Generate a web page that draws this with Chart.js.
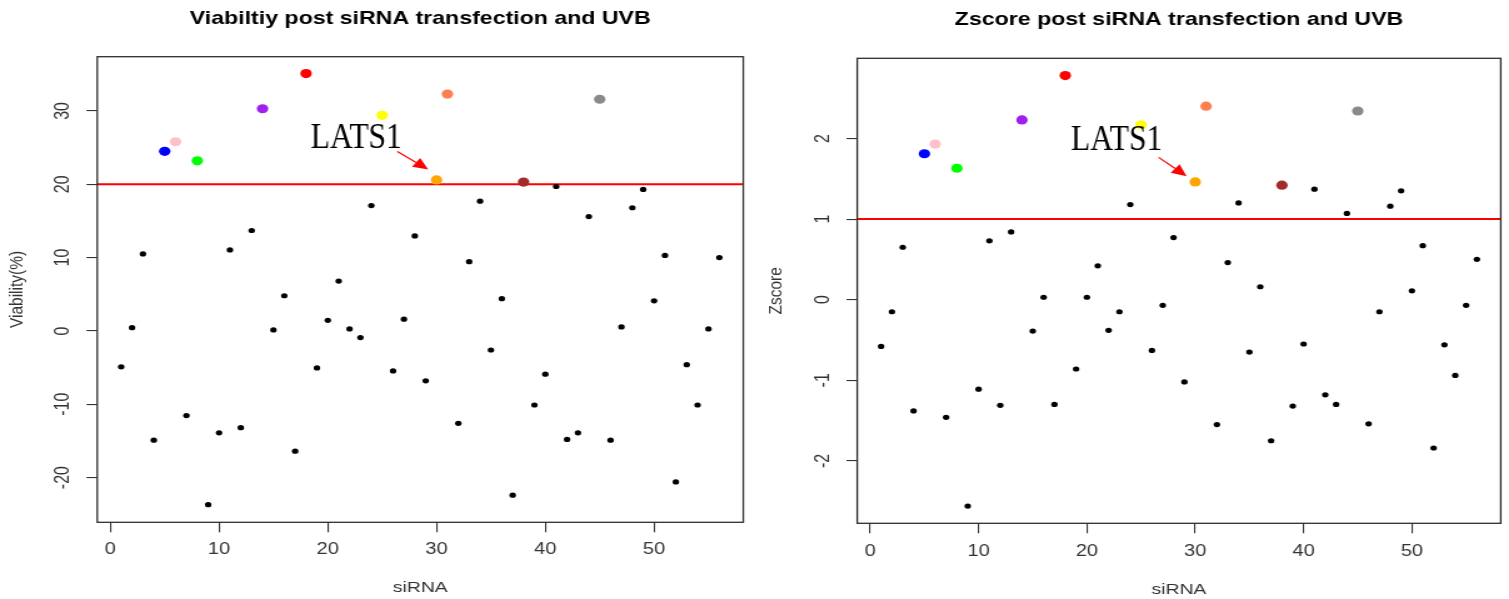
<!DOCTYPE html>
<html>
<head>
<meta charset="utf-8">
<script src="https://cdn.jsdelivr.net/npm/chart.js@4.4.0/dist/chart.umd.min.js"></script>
<style>
  html, body { margin: 0; padding: 0; background: #fff; overflow: hidden; }
  #wrap { position: relative; width: 1509px; height: 599px; }
  /* the original figure is stretched sideways, so the canvases are too */
  canvas { position: absolute; top: 0; transform-origin: 0 0; transform: scaleX(1.25); }
  #left { left: 0; }
  #right { left: 754px; }
</style>
</head>
<body>
<div id="wrap">
  <canvas id="left" width="603" height="599"></canvas>
  <canvas id="right" width="604" height="599"></canvas>
</div>
<script>
// siRNA number (x axis)
const siRNA = [1, 2, 3, 4, 5, 6, 7, 8, 9, 10, 11, 12, 13, 14, 15, 16, 17, 18, 19, 20,
  21, 22, 23, 24, 25, 26, 27, 28, 29, 30, 31, 32, 33, 34, 35, 36, 37, 38, 39, 40,
  41, 42, 43, 44, 45, 46, 47, 48, 49, 50, 51, 52, 53, 54, 55, 56];

// viability (%) after transfection + UVB
const viability = [-4.9, 0.45, 10.5, -14.9, 24.5, 25.8, -11.55, 23.2, -23.7, -13.9,
  11.05, -13.2, 13.7, 30.3, 0.14, 4.8, -16.4, 35.1, -5.05, 1.45,
  6.8, 0.27, -0.9, 17.1, 29.4, -5.45, 1.6, 12.96, -6.8, 20.6,
  32.3, -12.6, 9.45, 17.7, -2.6, 4.4, -22.4, 20.3, -10.1, -5.9,
  19.7, -14.8, -13.9, 15.6, 31.6, -14.9, 0.55, 16.8, 19.3, 4.1,
  10.3, -20.6, -4.6, -10.1, 0.27, 10.0];

// z-scores of the same screen
const zscore = [-0.58, -0.15, 0.65, -1.38, 1.81, 1.93, -1.46, 1.63, -2.56, -1.11,
  0.73, -1.31, 0.84, 2.23, -0.39, 0.03, -1.30, 2.78, -0.86, 0.03,
  0.42, -0.38, -0.15, 1.18, 2.17, -0.63, -0.07, 0.77, -1.02, 1.46,
  2.40, -1.55, 0.46, 1.20, -0.65, 0.16, -1.75, 1.42, -1.32, -0.55,
  1.37, -1.18, -1.30, 1.07, 2.34, -1.54, -0.15, 1.16, 1.35, 0.11,
  0.67, -1.84, -0.56, -0.94, -0.07, 0.50];

// hits that get their own colour
const hitIds = [5, 6, 8, 14, 18, 25, 30, 31, 38, 45];
const hitColors = ['#0000ff', '#ffc0cb', '#00ff00', '#a020f0', '#ff0000',
  '#ffff00', '#ffa500', '#ff7f50', '#a52a2a', '#8a8a8a'];

// axis limits (R style, 4% extension) and ticks
const xLimits = [-1.2, 58.2];
const viabLimits = [-26.1, 37.4];
const zLimits = [-2.774, 2.994];
const viabCut = 20;
const zCut = 1;
const calloutLabel = 'LATS1';

Chart.defaults.font.family = '"Liberation Sans", Arial, sans-serif';

// R draws a full box round the plot region
const framePlugin = {
  id: 'frame',
  afterDatasetsDraw(chart) {
    const { ctx, chartArea: a } = chart;
    ctx.save();
    ctx.strokeStyle = '#2e2e2e';
    ctx.lineWidth = 1.3;
    ctx.strokeRect(a.left, a.top, a.right - a.left, a.bottom - a.top);
    ctx.restore();
  }
};

// the LATS1 label + arrow, placed in data units
const calloutPlugin = {
  id: 'callout',
  afterDatasetsDraw(chart, args, opts) {
    const xs = chart.scales.x, ys = chart.scales.y, ctx = chart.ctx;
    const tx = xs.getPixelForValue(opts.text[0]);
    const ty = ys.getPixelForValue(opts.text[1]);
    ctx.save();
    ctx.fillStyle = '#000';
    ctx.font = '36px "Liberation Serif", "Times New Roman", serif';
    ctx.textBaseline = 'alphabetic';
    const w = ctx.measureText(calloutLabel).width;
    ctx.translate(tx, ty);
    ctx.scale(73 / w, 1);
    ctx.fillText(calloutLabel, 0, 0);
    ctx.restore();

    const x0 = xs.getPixelForValue(opts.from[0]), y0 = ys.getPixelForValue(opts.from[1]);
    const x1 = xs.getPixelForValue(opts.to[0]), y1 = ys.getPixelForValue(opts.to[1]);
    const ang = Math.atan2(y1 - y0, x1 - x0);
    const headLen = 12, headW = 5.5;
    const bx = x1 - headLen * Math.cos(ang), by = y1 - headLen * Math.sin(ang);
    ctx.save();
    ctx.strokeStyle = '#ff0000';
    ctx.fillStyle = '#ff0000';
    ctx.lineWidth = 1.2;
    ctx.beginPath();
    ctx.moveTo(x0, y0);
    ctx.lineTo(bx, by);
    ctx.stroke();
    ctx.beginPath();
    ctx.moveTo(x1, y1);
    ctx.lineTo(bx + headW * Math.sin(ang), by - headW * Math.cos(ang));
    ctx.lineTo(bx - headW * Math.sin(ang), by + headW * Math.cos(ang));
    ctx.closePath();
    ctx.fill();
    ctx.restore();
  }
};

const buildChart = (id, cfg) => {
  const points = siRNA.map((k, i) => ({ x: k, y: cfg.values[i] }));
  const colors = siRNA.map(k => hitIds.includes(k) ? hitColors[hitIds.indexOf(k)] : '#000000');
  const radii = siRNA.map(k => hitIds.includes(k) ? 4.6 : 2.6);

  return new Chart(document.getElementById(id), {
    type: 'scatter',
    data: {
      datasets: [
        {
          data: points,
          pointBackgroundColor: colors,
          pointBorderWidth: 0,
          pointRadius: radii,
          pointHoverRadius: radii
        },
        {
          type: 'line',
          data: [{ x: xLimits[0], y: cfg.cut }, { x: xLimits[1], y: cfg.cut }],
          borderColor: '#ff0000',
          borderWidth: 2,
          pointRadius: 0
        }
      ]
    },
    options: {
      responsive: false,
      animation: false,
      devicePixelRatio: 1,
      events: [],
      layout: { padding: { left: 0, right: cfg.padRight, top: 0, bottom: 0 } },
      plugins: {
        legend: { display: false },
        tooltip: { enabled: false },
        title: {
          display: true,
          text: cfg.title,
          fullSize: false,
          color: '#000',
          font: { size: 18.5, weight: 'bold' },
          padding: { top: cfg.titlePad[0], bottom: cfg.titlePad[1] }
        },
        callout: cfg.callout
      },
      scales: {
        x: {
          type: 'linear',
          min: xLimits[0],
          max: xLimits[1],
          afterFit: s => { s.height = cfg.xHeight; },
          ticks: { stepSize: 10, includeBounds: false, maxRotation: 0, padding: cfg.xTickPad,
                   color: '#333', font: { size: 16 } },
          grid: { drawOnChartArea: false, drawTicks: true, tickLength: 10, color: '#333', lineWidth: 1.1 },
          border: { display: false },
          title: { display: true, text: 'siRNA', color: '#333', font: { size: 15.5 },
                   padding: { top: 0, bottom: cfg.xTitlePad } }
        },
        y: {
          type: 'linear',
          min: cfg.limits[0],
          max: cfg.limits[1],
          afterFit: s => { s.width = cfg.yWidth; },
          ticks: { stepSize: cfg.step, includeBounds: false, minRotation: 90, maxRotation: 90,
                   crossAlign: 'center', padding: cfg.yTickPad, color: '#333', font: { size: 16 } },
          grid: { drawOnChartArea: false, drawTicks: true, tickLength: 8.6, color: '#333', lineWidth: 1.1 },
          border: { display: false },
          title: { display: true, text: cfg.yTitle, color: '#333', font: { size: 15.5 },
                   padding: { top: cfg.yTitlePad, bottom: 0 } }
        }
      }
    },
    plugins: [framePlugin, calloutPlugin]
  });
};

buildChart('left', {
  values: viability,
  cut: viabCut,
  limits: viabLimits,
  step: 10,
  title: 'Viabiltiy post siRNA transfection and UVB',
  yTitle: 'Viability(%)',
  padRight: 8.4,
  titlePad: [7.4, 27.1],
  xHeight: 76.7,
  xTickPad: 8,
  xTitlePad: 1.7,
  yWidth: 77.8,
  yTickPad: 7.2,
  yTitlePad: 4.7,
  callout: { text: [18.42, 24.97], from: [26.39, 24.46], to: [29.24, 22.03] }
});

buildChart('right', {
  values: zscore,
  cut: zCut,
  limits: zLimits,
  step: 1,
  title: 'Zscore post siRNA transfection and UVB',
  yTitle: 'Zscore',
  padRight: 6.6,
  titlePad: [8.9, 27.2],
  xHeight: 75.7,
  xTickPad: 9,
  xTitlePad: 0,
  yWidth: 82.6,
  yTickPad: 11.7,
  yTitlePad: 8.9,
  callout: { text: [18.53, 1.86], from: [26.62, 1.765], to: [29.2, 1.53] }
});
</script>
</body>
</html>
